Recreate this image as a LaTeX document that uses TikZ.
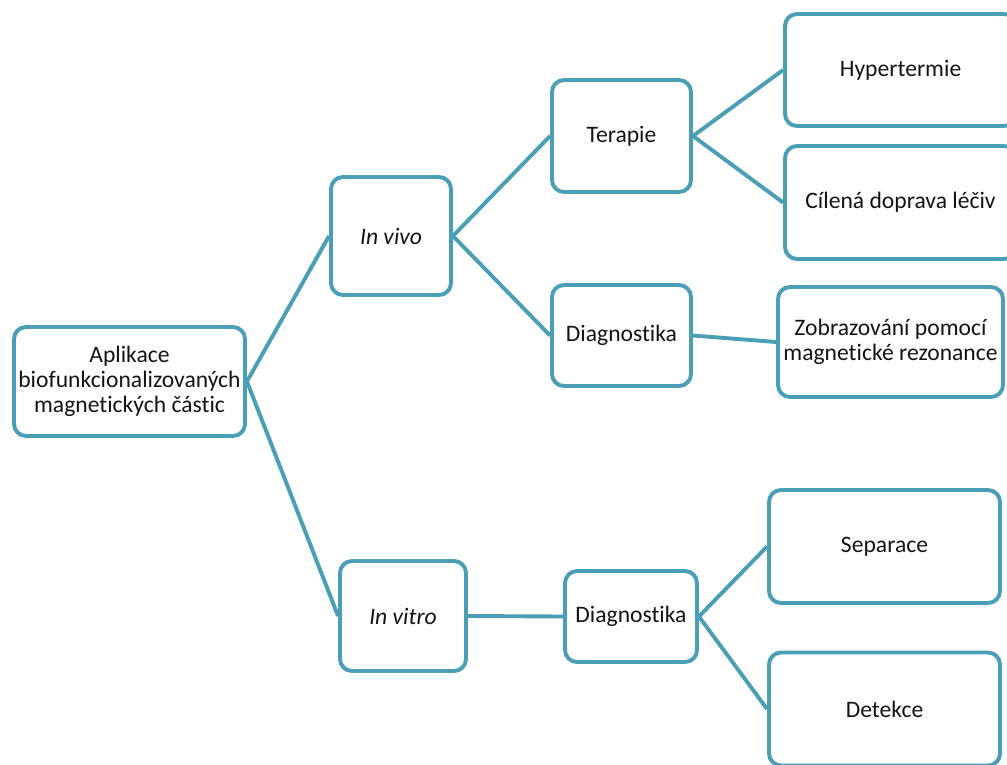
\documentclass[tikz,border=0pt]{standalone}
\usepackage{fontspec}
\setmainfont{Carlito}[Ligatures={NoCommon}]
\definecolor{teal1}{HTML}{4A9FB6}
\definecolor{txt}{HTML}{141414}
\begin{document}
\begin{tikzpicture}[x=1pt,y=-1pt,
  box/.style={draw=teal1,line width=3.9pt,rounded corners=12pt,fill=white,
    inner sep=0pt,align=center,text=txt,
    font=\fontsize{23.6}{24.8}\selectfont},
  link/.style={draw=teal1,line width=3.9pt}]
\useasboundingbox (0,0) rectangle (1007,764);
\clip (0,0) rectangle (1007,764);
\node[box,minimum width=231,minimum height=109] (main) at (129.5,381.5) {Aplikace\\biofunkcionalizovaných\\magnetických částic};
\node[box,minimum width=120,minimum height=118] (invivo) at (391,236) {\textit{In vivo}};
\node[box,minimum width=139,minimum height=112] (terapie) at (621.5,136) {Terapie};
\node[box,minimum width=139,minimum height=101] (diag1) at (621.5,335.5) {Diagnostika};
\node[box,minimum width=231,minimum height=112] (hyper) at (900.5,70) {Hypertermie};
\node[box,minimum width=231,minimum height=113] (cilena) at (900.5,202.5) {Cílená doprava léčiv};
\node[box,minimum width=225,minimum height=110] (zobraz) at (890.5,342) {Zobrazování pomocí\\magnetické rezonance};
\node[box,minimum width=126,minimum height=110] (invitro) at (403,616) {\textit{In vitro}};
\node[box,minimum width=132,minimum height=91] (diag2) at (631,616.5) {Diagnostika};
\node[box,minimum width=231,minimum height=113] (separace) at (884.5,546.5) {Separace};
\node[box,minimum width=231,minimum height=113] (detekce) at (884.5,709) {Detekce};
\draw[link] (main.east) -- (invivo.west);
\draw[link] (main.east) -- (invitro.west);
\draw[link] (invivo.east) -- (terapie.west);
\draw[link] (invivo.east) -- (diag1.west);
\draw[link] (terapie.east) -- (hyper.west);
\draw[link] (terapie.east) -- (cilena.west);
\draw[link] (diag1.east) -- (zobraz.west);
\draw[link] (invitro.east) -- (diag2.west);
\draw[link] (diag2.east) -- (separace.west);
\draw[link] (diag2.east) -- (detekce.west);
\end{tikzpicture}
\end{document}
